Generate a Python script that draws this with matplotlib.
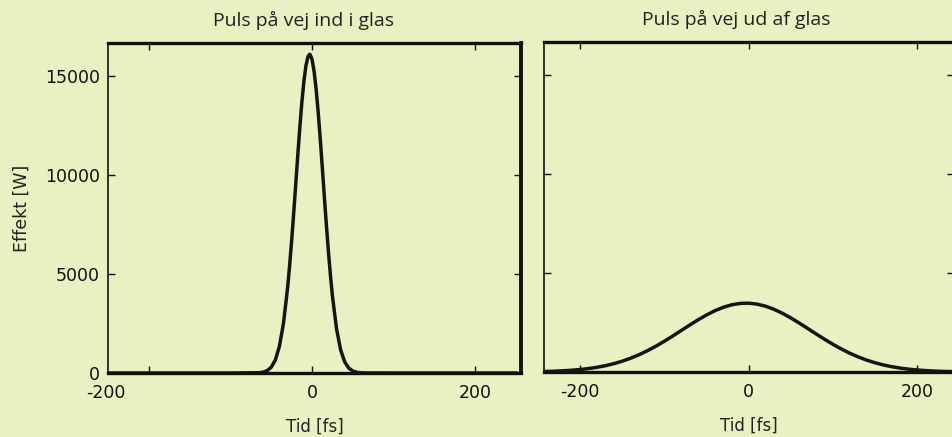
import matplotlib.pyplot as plt
from matplotlib.transforms import ScaledTranslation

plt.rcParams['axes.unicode_minus'] = False

# pulse on the way into the glass (time in fs, power in W)
tid_ind = [-250, -100, -65, -60, -55, -50, -45, -40, -35, -30, -27.5, -25, -22.5, -20, -17.5,
           -15, -12.5, -10, -7.5, -5, -3, -2.5, 0, 2.5, 5, 7.5, 10, 12.5, 15, 17.5, 20, 22.5,
           25, 30, 35, 40, 45, 50, 55, 60, 65, 100, 250]
effekt_ind = [0, 0, 15, 44, 119, 292, 656, 1341, 2512, 4287, 5416, 6690, 8075, 9530, 10990,
              12400, 13670, 14730, 15520, 15980, 16100, 16093, 15840, 15240, 14340, 13180, 11850,
              10410, 8940, 7509, 6160, 4946, 3880, 2230, 1170, 562, 246, 98, 36, 12, 3, 0, 0]

# pulse on the way out of the glass
tid_ud = [-250, -240, -230, -220, -210, -200, -190, -180, -170, -160, -150, -140, -130, -120,
          -110, -100, -90, -80, -70, -60, -50, -40, -30, -20, -10, 0, 10, 20, 30, 40, 50, 60,
          70, 80, 90, 100, 110, 120, 130, 140, 150, 160, 170, 180, 190, 200, 210, 220, 230,
          240, 250]
effekt_ud = [19, 28, 42, 62, 89, 125, 174, 238, 319, 422, 548, 698, 875, 1078,
             1306, 1555, 1820, 2095, 2370, 2635, 2880, 3095, 3269, 3395, 3465, 3477, 3430, 3326,
             3170, 2970, 2736, 2477, 2205, 1929, 1660, 1404, 1166, 953, 765, 604, 469, 358,
             268, 198, 143, 102, 72, 49, 33, 22, 15]

xticks = [-200, 0, 200]
yticks = [0, 5000, 10000, 15000]
titler = ['Puls på vej ind i glas', 'Puls på vej ud af glas']

bg = '#eaf0c2'
fig = plt.figure(figsize=(9.52, 4.37), dpi=100, facecolor=bg)
ax1 = fig.add_axes([108 / 952, 64 / 437, 413 / 952, 330 / 437])
ax2 = fig.add_axes([544 / 952, 65 / 437, 410 / 952, 330 / 437])

ax1.plot(tid_ind, effekt_ind, color='#151515', lw=2.5, solid_joinstyle='round')
ax2.plot(tid_ud, effekt_ud, color='#151515', lw=2.5, solid_joinstyle='round')

ax1.set_xlim(-250, 256)
ax2.set_xlim(-243, 244)

for ax, titel, tx in zip([ax1, ax2], titler, [0.473, 0.468]):
    ax.set_facecolor('none')
    ax.set_ylim(0, 16670)
    ax.set_xticks(xticks)
    ax.set_yticks(yticks)
    ax.tick_params(direction='in', length=5, width=1, top=True, right=True,
                   labelsize=12.5, colors='#111111')
    ax.tick_params(axis='x', pad=8)
    ax.tick_params(axis='y', pad=6)
    ax.set_title(titel, fontsize=14, family='Open Sans', color='#222222', pad=12, x=tx)
    ax.set_xlabel('Tid [fs]', fontsize=12, color='#222222', labelpad=11)
    ax.spines['top'].set_linewidth(2.4)
    ax.spines['right'].set_linewidth(2.8)
    ax.spines['bottom'].set_linewidth(2.4)
    ax.spines['left'].set_linewidth(1.2)
    for s in ax.spines.values():
        s.set_color('#111111')

ax2.set_yticklabels([])
ax1.set_ylabel('Effekt [W]', fontsize=12.5, color='#222222', labelpad=10)

# the -200 label sits further left than its tick in the original
lab = ax1.get_xticklabels()[0]
lab.set_transform(lab.get_transform() + ScaledTranslation(-0.43, 0, fig.dpi_scale_trans))

fig.savefig('out.png', dpi=100, facecolor=bg)
